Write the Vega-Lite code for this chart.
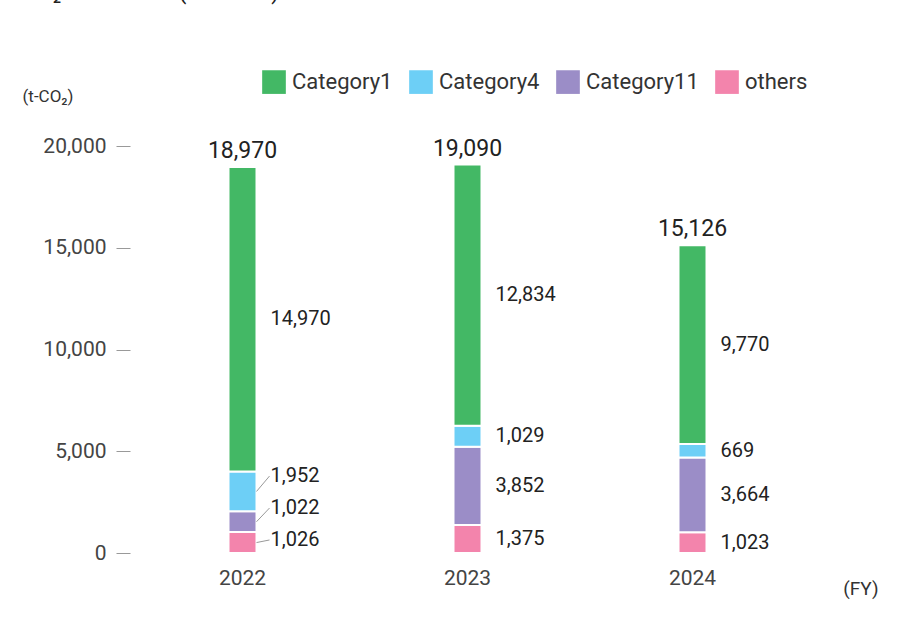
{
  "$schema": "https://vega.github.io/schema/vega-lite/v6.json",
  "autosize": "none",
  "width": 750,
  "height": 407,
  "padding": {"left": 130, "top": 146, "right": 20, "bottom": 67},
  "background": "white",
  "title": {
    "text": "CO₂ Emissions (SCOPE3)*",
    "anchor": "start",
    "frame": "group",
    "dx": -108,
    "dy": -62,
    "fontSize": 23,
    "fontWeight": "normal",
    "font": "Roboto",
    "color": "#222"
  },
  "data": {
    "values": [
      {"year": "2022", "category": "others", "order": 1, "value": 1026, "label_y": 640},
      {"year": "2022", "category": "Category11", "order": 2, "value": 1022, "label_y": 2210},
      {"year": "2022", "category": "Category4", "order": 3, "value": 1952, "label_y": 3780},
      {"year": "2022", "category": "Category1", "order": 4, "value": 14970},
      {"year": "2023", "category": "others", "order": 1, "value": 1375},
      {"year": "2023", "category": "Category11", "order": 2, "value": 3852},
      {"year": "2023", "category": "Category4", "order": 3, "value": 1029},
      {"year": "2023", "category": "Category1", "order": 4, "value": 12834},
      {"year": "2024", "category": "others", "order": 1, "value": 1023},
      {"year": "2024", "category": "Category11", "order": 2, "value": 3664},
      {"year": "2024", "category": "Category4", "order": 3, "value": 669},
      {"year": "2024", "category": "Category1", "order": 4, "value": 9770}
    ]
  },
  "transform": [
    {"stack": "value", "groupby": ["year"], "sort": [{"field": "order"}], "as": ["lo", "hi"]},
    {"calculate": "(datum.lo + datum.hi) / 2", "as": "mid"},
    {"calculate": "isValid(datum.label_y) ? datum.label_y : datum.mid", "as": "ly"}
  ],
  "encoding": {
    "x": {
      "field": "year",
      "type": "nominal",
      "scale": {"type": "band", "range": [0, 675], "paddingInner": 0, "paddingOuter": 0},
      "axis": {
        "title": "(FY)",
        "titleX": 748,
        "titleY": 26,
        "titleAlign": "right",
        "titleFontSize": 19,
        "titleFontWeight": "normal",
        "titleColor": "#333",
        "labelAngle": 0,
        "labelFontSize": 21,
        "labelColor": "#444",
        "labelPadding": 14,
        "ticks": false,
        "domain": false
      }
    }
  },
  "layer": [
    {
      "mark": {"type": "bar", "width": 28, "stroke": "white", "strokeWidth": 2},
      "encoding": {
        "y": {
          "field": "lo",
          "type": "quantitative",
          "scale": {"domain": [0, 20000]},
          "axis": {
            "values": [0, 5000, 10000, 15000, 20000],
            "format": ",.0f",
            "title": "(t-CO₂)",
            "titleAngle": 0,
            "titleX": -108,
            "titleY": -41,
            "titleAlign": "left",
            "titleFontSize": 17,
            "titleFontWeight": "normal",
            "titleColor": "#333",
            "labelFontSize": 21,
            "labelColor": "#444",
            "labelPadding": 10,
            "tickSize": 14,
            "tickColor": "#999",
            "domain": false,
            "grid": false
          }
        },
        "y2": {"field": "hi"},
        "color": {
          "field": "category",
          "type": "nominal",
          "scale": {
            "domain": ["Category1", "Category4", "Category11", "others"],
            "range": ["#43b865", "#6dcff6", "#9b8dc7", "#f384ac"]
          },
          "legend": {
            "title": null,
            "orient": "none",
            "legendX": 132,
            "legendY": -76,
            "direction": "horizontal",
            "symbolType": "square",
            "symbolSize": 560,
            "symbolStrokeWidth": 0,
            "labelFontSize": 22,
            "labelColor": "#333",
            "labelOffset": 6,
            "columnPadding": 16
          }
        }
      }
    },
    {
      "transform": [{"filter": "isValid(datum.label_y)"}],
      "mark": {"type": "rule", "color": "#999", "strokeWidth": 1, "xOffset": 14, "x2Offset": 27},
      "encoding": {
        "x2": {"field": "year"},
        "y": {"field": "mid", "type": "quantitative"},
        "y2": {"field": "ly"}
      }
    },
    {
      "mark": {"type": "text", "align": "left", "baseline": "middle", "dx": 28, "fontSize": 20, "color": "#222"},
      "encoding": {
        "y": {"field": "ly", "type": "quantitative"},
        "text": {"field": "value", "type": "quantitative", "format": ","}
      }
    },
    {
      "transform": [{"aggregate": [{"op": "sum", "field": "value", "as": "total"}], "groupby": ["year"]}],
      "mark": {"type": "text", "baseline": "bottom", "dy": -4, "fontSize": 23, "color": "#222"},
      "encoding": {
        "y": {"field": "total", "type": "quantitative"},
        "text": {"field": "total", "type": "quantitative", "format": ","}
      }
    }
  ],
  "config": {
    "view": {"stroke": null},
    "font": "Roboto"
  }
}
